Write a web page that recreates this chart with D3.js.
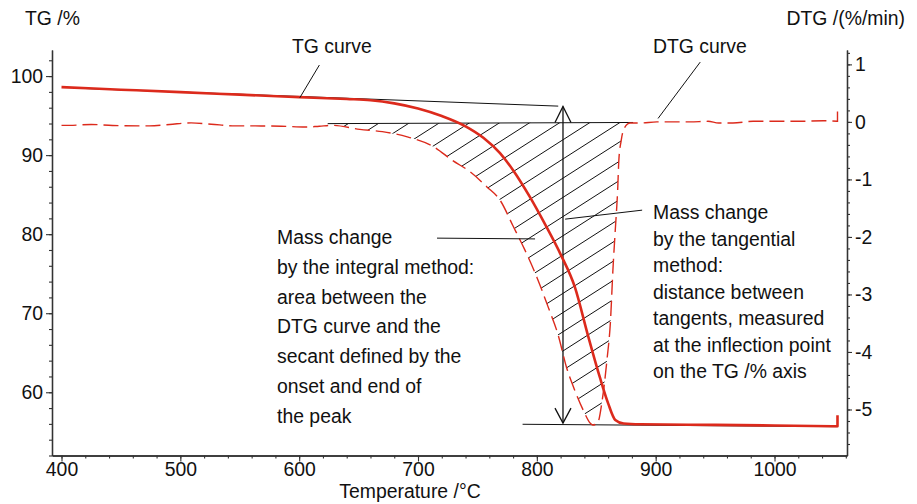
<!DOCTYPE html>
<html>
<head>
<meta charset="utf-8">
<script src="https://cdn.jsdelivr.net/npm/d3@7/dist/d3.min.js"></script>
<style>
  html, body { margin: 0; padding: 0; background: #fff; }
  svg { display: block; font-family: "Liberation Sans", Arial, sans-serif; }
</style>
</head>
<body>
<svg id="chart" width="917" height="504"></svg>
<script>
// TG curve: residual mass (%) against temperature (°C); the last point is the end-of-run tick
const tgTemp = [400, 450, 500, 550, 600, 640, 660, 680, 700, 720, 740, 755, 769, 780, 794, 808, 820,
                832, 843, 853, 860, 866, 873, 887, 950, 1000, 1053, 1053];
const tgMass = [98.6, 98.28, 97.97, 97.65, 97.34, 97.1, 96.95, 96.55, 95.9, 94.95, 93.65, 92.2, 90.25, 88.1, 84.75, 80.95, 77.45,
                73.3, 67.2, 61.9, 58.6, 56.5, 56.05, 55.95, 55.87, 55.8, 55.7, 57.1];

// DTG curve: rate of mass change (%/min) against temperature (°C); the last point is the end-of-run tick
const dtgTemp = [400, 407, 425, 443, 474, 491, 509, 526, 546, 563, 585, 605, 617, 628, 651, 670, 691, 713, 729, 744,
                 758, 769, 780, 790, 800, 809, 818, 825, 832, 839, 845, 847, 851, 855, 859, 862, 864, 866, 868, 869,
                 871, 873.5, 878.5, 887, 901, 929, 944, 953, 965, 982, 999, 1020, 1041, 1053, 1053];
const dtgRate = [-0.06, -0.06, -0.045, -0.063, -0.07, -0.045, -0.017, -0.04, -0.07, -0.07, -0.075, -0.09, -0.075, -0.06, -0.13, -0.17, -0.26, -0.43, -0.67, -0.87,
                 -1.13, -1.36, -1.81, -2.23, -2.70, -3.19, -3.71, -4.27, -4.67, -5.01, -5.24, -5.27, -5.24, -4.84, -4.14, -3.45, -2.58, -1.88, -1.19, -0.67,
                 -0.32, -0.11, -0.02, -0.02, 0, 0, 0.01, -0.02, -0.02, 0.01, 0.01, 0.01, 0.02, 0.01, 0.2];

// Tangents to the TG plateaus before and after the step (°C, %)
const tangentTopTemp = [411, 818];
const tangentTopMass = [98.48, 96.2];
const tangentBottomTemp = [788, 1053];
const tangentBottomMass = [55.95, 55.65];

// Secant through onset and end of the DTG peak (°C, %/min)
const secantTemp = [624, 881];
const secantRate = [-0.03, -0.01];

// Mass-change arrow at the inflection point (°C, %)
const arrowTemp = 822;
const arrowMass = [96.15, 56.1];

// Axis ticks
const xMajorTicks = [400, 500, 600, 700, 800, 900, 1000];
const tgMajorTicks = [60, 70, 80, 90, 100];
const dtgMajorTicks = [1, 0, -1, -2, -3, -4, -5];

// Annotation texts
const leftNote = ["Mass change", "by the integral method:", "area between the", "DTG curve and the",
                  "secant defined by the", "onset and end of", "the peak"];
const rightNote = ["Mass change", "by the tangential", "method:", "distance between",
                   "tangents, measured", "at the inflection point", "on the TG /% axis"];

const RED = "#dc2a1c";
const INK = "#111";
const FONT = 19.4;

const svg = d3.select("#chart");
const plot = { left: 52, right: 847, top: 50, bottom: 455.5 };

const x = d3.scaleLinear().domain([392, 1061]).range([plot.left, plot.right]);
const yTG = d3.scaleLinear().domain([52, 103.3]).range([plot.bottom, plot.top]);
const yDTG = d3.scaleLinear().domain([-5.8, 1.25]).range([plot.bottom, plot.top]);

// ---- axes ----
function styleAxis(g) {
  g.selectAll(".domain").attr("stroke", "#333").attr("stroke-width", 1.3);
  g.selectAll(".tick line").attr("stroke", "#333").attr("stroke-width", 1.1);
  g.selectAll(".tick text").attr("fill", "#111").attr("font-size", FONT)
    .attr("font-family", '"Liberation Sans", Arial, sans-serif');
}

const xMinor = d3.range(400, 1061, 20);
svg.append("g").attr("transform", `translate(0,${plot.bottom})`)
  .call(d3.axisBottom(x).tickValues(xMinor).tickSize(3).tickSizeOuter(0).tickFormat(""))
  .call(styleAxis);
svg.append("g").attr("transform", `translate(0,${plot.bottom})`)
  .call(d3.axisBottom(x).tickValues(xMajorTicks).tickSize(6).tickSizeOuter(0).tickPadding(1).tickFormat(d3.format("d")))
  .call(styleAxis);

const tgMinor = d3.range(52, 103.3, 2);
svg.append("g").attr("transform", `translate(${plot.left},0)`)
  .call(d3.axisLeft(yTG).tickValues(tgMinor).tickSize(3).tickSizeOuter(0).tickFormat(""))
  .call(styleAxis);
svg.append("g").attr("transform", `translate(${plot.left},0)`)
  .call(d3.axisLeft(yTG).tickValues(tgMajorTicks).tickSize(6).tickSizeOuter(0).tickPadding(3).tickFormat(d3.format("d")))
  .call(styleAxis);

const dtgMinor = d3.range(-28, 7).map(k => k * 0.2);
svg.append("g").attr("transform", `translate(${plot.right},0)`)
  .call(d3.axisRight(yDTG).tickValues(dtgMinor).tickSize(3).tickSizeOuter(0).tickFormat(""))
  .call(styleAxis);
svg.append("g").attr("transform", `translate(${plot.right},0)`)
  .call(d3.axisRight(yDTG).tickValues(dtgMajorTicks).tickSize(5).tickSizeOuter(0).tickPadding(3)
        .tickFormat(d => d < 0 ? "-" + Math.abs(d) : String(d)))
  .call(styleAxis);

// axis titles
svg.append("text").attr("x", 25).attr("y", 25).attr("font-size", FONT).attr("fill", INK).text("TG /%");
svg.append("text").attr("x", 905).attr("y", 25).attr("font-size", FONT).attr("fill", INK)
  .attr("text-anchor", "end").text("DTG /(%/min)");
svg.append("text").attr("x", 410).attr("y", 498).attr("font-size", FONT).attr("fill", INK)
  .attr("text-anchor", "middle").text("Temperature /°C");

// ---- hatched area between DTG peak and its secant ----
const secantAt = t => secantRate[0] + (secantRate[1] - secantRate[0]) * (t - secantTemp[0]) / (secantTemp[1] - secantTemp[0]);
const dtgAt = t => {
  const i = d3.bisectLeft(dtgTemp, t);
  if (i <= 0) return dtgRate[0];
  const t0 = dtgTemp[i - 1], t1 = dtgTemp[i];
  return dtgRate[i - 1] + (dtgRate[i] - dtgRate[i - 1]) * (t - t0) / (t1 - t0);
};
const peakPts = [{ t: secantTemp[0], r: dtgAt(secantTemp[0]) }]
  .concat(dtgTemp.map((t, i) => ({ t, r: dtgRate[i] })).filter(p => p.t > secantTemp[0] && p.t < secantTemp[1]))
  .concat([{ t: secantTemp[1], r: dtgAt(secantTemp[1]) }]);

const peakArea = d3.area()
  .x(p => x(p.t))
  .y0(p => yDTG(secantAt(p.t)))
  .y1(p => yDTG(p.r))
  .curve(d3.curveMonotoneX);

svg.append("defs").append("clipPath").attr("id", "peak-clip")
  .append("path").attr("d", peakArea(peakPts));

const hatchSlope = 0.64, hatchStep = 30;
const ySec = yDTG(secantAt(secantTemp[1]));
const hatchG = svg.append("g").attr("clip-path", "url(#peak-clip)");
for (let k = -10; k <= 20; k++) {
  const xs = 560 + hatchStep * k;
  const drop = plot.bottom - ySec;
  hatchG.append("line")
    .attr("x1", xs - drop / hatchSlope).attr("y1", plot.bottom)
    .attr("x2", xs + 20).attr("y2", ySec - 20 * hatchSlope)
    .attr("stroke", INK).attr("stroke-width", 1);
}

// ---- construction lines ----
svg.append("line")
  .attr("x1", x(secantTemp[0])).attr("y1", yDTG(secantRate[0]))
  .attr("x2", x(secantTemp[1])).attr("y2", yDTG(secantRate[1]))
  .attr("stroke", INK).attr("stroke-width", 1);
svg.append("line")
  .attr("x1", x(tangentTopTemp[0])).attr("y1", yTG(tangentTopMass[0]))
  .attr("x2", x(tangentTopTemp[1])).attr("y2", yTG(tangentTopMass[1]))
  .attr("stroke", INK).attr("stroke-width", 1);
svg.append("line")
  .attr("x1", x(tangentBottomTemp[0])).attr("y1", yTG(tangentBottomMass[0]))
  .attr("x2", x(tangentBottomTemp[1])).attr("y2", yTG(tangentBottomMass[1]))
  .attr("stroke", INK).attr("stroke-width", 1);

// double arrow for the tangential mass change
const ax = x(arrowTemp), aTop = yTG(arrowMass[0]), aBot = yTG(arrowMass[1]);
svg.append("line").attr("x1", ax).attr("y1", aTop).attr("x2", ax).attr("y2", aBot)
  .attr("stroke", INK).attr("stroke-width", 1.3);
svg.append("path").attr("d", `M${ax - 8},${aTop + 16}L${ax},${aTop}L${ax + 8},${aTop + 16}`)
  .attr("fill", "none").attr("stroke", INK).attr("stroke-width", 1.3);
svg.append("path").attr("d", `M${ax - 8},${aBot - 15}L${ax},${aBot}L${ax + 8},${aBot - 15}`)
  .attr("fill", "none").attr("stroke", INK).attr("stroke-width", 1.3);

// ---- data curves: smooth run, then a straight end-of-run tick ----
function curvePath(temps, values, yScale) {
  const n = temps.length - 1;
  const smooth = d3.line().x(d => x(d[0])).y(d => yScale(d[1])).curve(d3.curveMonotoneX);
  const pts = temps.slice(0, n).map((t, i) => [t, values[i]]);
  return smooth(pts) + `L${x(temps[n])},${yScale(values[n])}`;
}

svg.append("path").attr("d", curvePath(dtgTemp, dtgRate, yDTG))
  .attr("fill", "none").attr("stroke", RED).attr("stroke-width", 1.4)
  .attr("stroke-dasharray", "15,6");

svg.append("path").attr("d", curvePath(tgTemp, tgMass, yTG))
  .attr("fill", "none").attr("stroke", RED).attr("stroke-width", 2.6).attr("stroke-linejoin", "round");

// ---- labels and leader lines ----
function leader(t1, v1, s1, t2, v2, s2) {
  svg.append("line").attr("x1", x(t1)).attr("y1", s1(v1)).attr("x2", x(t2)).attr("y2", s2(v2))
    .attr("stroke", INK).attr("stroke-width", 1);
}

svg.append("text").attr("x", 292).attr("y", 53).attr("font-size", FONT).attr("fill", INK).text("TG curve");
leader(617, 101.4, yTG, 600.5, 97.25, yTG);

svg.append("text").attr("x", 653).attr("y", 53).attr("font-size", FONT).attr("fill", INK).text("DTG curve");
leader(937.5, 1.04, yDTG, 902, 0.06, yDTG);

const leftText = svg.append("text").attr("font-size", FONT).attr("fill", INK);
leftNote.forEach((s, i) => leftText.append("tspan").attr("x", 277).attr("y", 244 + i * 29.8).text(s));
leader(716, 79.5, yTG, 798.5, 79.4, yTG);

const rightText = svg.append("text").attr("font-size", FONT).attr("fill", INK);
rightNote.forEach((s, i) => rightText.append("tspan").attr("x", 653).attr("y", 219 + i * 26.5).text(s));
leader(888.6, 83.04, yTG, 823.8, 81.9, yTG);
</script>
</body>
</html>
